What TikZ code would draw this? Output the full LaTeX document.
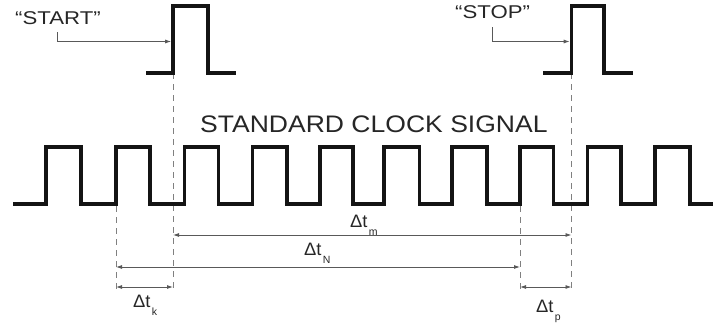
\documentclass[tikz,border=0pt]{standalone}
\usepackage{fontspec}
\setmainfont{Liberation Sans}
\usetikzlibrary{arrows.meta}
\newcommand\dtlabel[1]{\scalebox{1.02}[1]{\fontsize{18}{20}\selectfont Δt}\kern1.2pt\raisebox{-8pt}{\fontsize{10.5}{11}\selectfont #1}}
\begin{document}
\begin{tikzpicture}[x=1pt,y=-1pt,
  wave/.style={line width=3.6pt, black!92, line join=miter},
  dim/.style={line width=0.85pt, black!65},
  guide/.style={line width=0.85pt, black!50, dash pattern=on 6pt off 5pt},
  dimarrow/.style={dim, {Latex[length=6pt,width=4pt]}-{Latex[length=6pt,width=4pt]}},
  callout/.style={dim, -{Latex[length=6pt,width=4pt]}},
  lbl/.style={inner sep=0pt, anchor=base west, text=black!85}]
\useasboundingbox (0,0) rectangle (716,324);

% guide lines
\coordinate (gSt) at (173,73);   \coordinate (gSb) at (173,290);
\coordinate (gAt) at (116,206);  \coordinate (gAb) at (116,290);
\coordinate (gBt) at (520,206);  \coordinate (gBb) at (520,290);
\coordinate (gPt) at (571.5,73); \coordinate (gPb) at (571.5,290);
\draw[guide] (gSt) -- (gSb);
\draw[guide] (gAt) -- (gAb);
\draw[guide] (gBt) -- (gBb);
\draw[guide] (gPt) -- (gPb);

% START / STOP pulses
\draw[wave] (146,73) -- (173,73) -- (173,6) -- (208,6) -- (208,73) -- (236,73);
\draw[wave] (543,73) -- (571.5,73) -- (571.5,6) -- (604,6) -- (604,73) -- (633,73);

% clock signal
\draw[wave] (13,204) -- (46,204) -- (46,147) -- (81,147) -- (81,204)
  -- (116,204) -- (116,147) -- (150,147) -- (150,204)
  -- (184.3,204) -- (184.3,147) -- (218.3,147) -- (218.3,204)
  -- (252.3,204) -- (252.3,147) -- (286.7,147) -- (286.7,204)
  -- (320,204) -- (320,147) -- (353,147) -- (353,204)
  -- (384,204) -- (384,147) -- (419.3,147) -- (419.3,204)
  -- (451.7,204) -- (451.7,147) -- (486.7,147) -- (486.7,204)
  -- (520,204) -- (520,147) -- (553.3,147) -- (553.3,204)
  -- (587.3,204) -- (587.3,147) -- (620.7,147) -- (620.7,204)
  -- (655,204) -- (655,147) -- (690,147) -- (690,204) -- (713,204);

% texts
\node[lbl] (start) at (15,24) {\scalebox{1.2}[1]{\fontsize{18.5}{20}\selectfont “START”}};
\node[lbl] (stop) at (455,19) {\scalebox{1.2}[1]{\fontsize{18.5}{20}\selectfont “STOP”}};
\node[lbl] (title) at (200,132) {\scalebox{1.11}[1]{\fontsize{23.9}{26}\selectfont STANDARD CLOCK SIGNAL}};

% callout arrows
\coordinate (startfrom) at (57,32);
\coordinate (startedge) at (171.2,41.5);
\coordinate (stopfrom) at (492.5,27);
\coordinate (stopedge) at (569.7,41.5);
\draw[callout] (startfrom) |- (startedge);
\draw[callout] (stopfrom) |- (stopedge);

% dimension arrows
\coordinate (mL) at (173,235);   \coordinate (mR) at (571.5,235);
\coordinate (nL) at (116,267);   \coordinate (nR) at (520,267);
\coordinate (kL) at (116,287);   \coordinate (kR) at (173,287);
\coordinate (pL) at (520,287);   \coordinate (pR) at (571.5,287);
\draw[dimarrow] (mL) -- (mR);
\draw[dimarrow] (nL) -- (nR);
\draw[dimarrow] (kL) -- (kR);
\draw[dimarrow] (pL) -- (pR);

\node[lbl] (dtm) at (350,227) {\dtlabel{m}};
\node[lbl] (dtn) at (304,255) {\dtlabel{N}};
\node[lbl] (dtk) at (133,307) {\dtlabel{k}};
\node[lbl] (dtp) at (536,312) {\dtlabel{p}};
\end{tikzpicture}
\end{document}
